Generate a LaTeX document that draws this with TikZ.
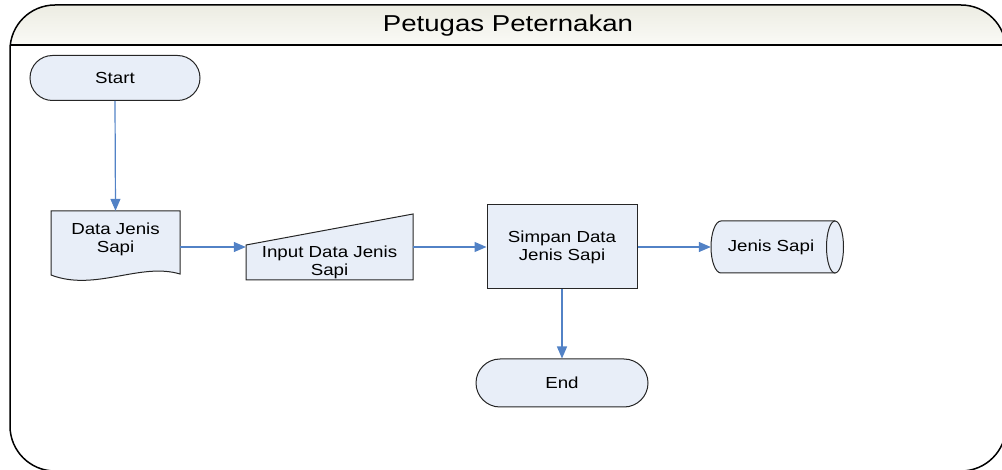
\documentclass[tikz,border=0pt]{standalone}
\usepackage{fontspec}
\setmainfont{Liberation Sans}[FakeStretch=1.17]
\newfontfamily\titlefont{Liberation Sans}[FakeStretch=1.2]
\usetikzlibrary{arrows.meta,shapes.misc}
\definecolor{shapefill}{RGB}{232,238,248}
\definecolor{flowblue}{RGB}{82,130,198}
\definecolor{headtop}{RGB}{236,236,226}
\definecolor{headbot}{RGB}{250,250,246}
\begin{document}
\begin{tikzpicture}[x=1pt,y=-1pt,
  every node/.style={font=\fontsize{16}{18}\selectfont, align=center, inner sep=0pt},
  outline/.style={draw=black!85, line width=1pt, fill=shapefill},
  terminal/.style={outline, rounded rectangle, minimum width=170, minimum height=45},
  procbox/.style={outline, rectangle, minimum width=150, minimum height=84},
  hollow/.style={rectangle, minimum width=#1},
  flow/.style={draw=flowblue, line width=1.2pt, -{Triangle[length=12pt,width=10pt]}},
]
\useasboundingbox (0,0) rectangle (1002,470);
\clip (0,0) rectangle (1002,470);

% swimlane frame and its header band
\begin{scope}
  \clip[rounded corners=45] (10,5) rectangle (1006,471);
  \shade[top color=headtop, bottom color=headbot] (10,5) rectangle (1006,45);
\end{scope}
\draw[line width=1.5pt, rounded corners=45] (10,5) rectangle (1006,471);
\draw[line width=1.5pt] (10,45) -- (1006,45);
\node[font=\titlefont\fontsize{23}{26}\selectfont] (lane) at (508,26) {Petugas Peternakan};

% start / end terminals
\node[terminal] (start) at (115,78) {Start};
\node[terminal, minimum width=172, minimum height=48] (end) at (562,383) {End};

% document: Data Jenis Sapi
\draw[outline] (51,211) -- (180,211) -- (180,274)
  .. controls (140,262) and (95,292) .. (51,275) -- cycle;
\node[hollow=129, minimum height=72] (doc) at (115.5,247) {};
\node at (115.5,239) {Data Jenis\\Sapi};

% manual input: Input Data Jenis Sapi
\draw[outline] (246,245) -- (413,214) -- (413,280) -- (246,280) -- cycle;
\node[hollow=167, minimum height=66] (inp) at (329.5,247) {};
\node at (329.5,262) {Input Data Jenis\\Sapi};

% process: Simpan Data Jenis Sapi
\node[procbox] (proc) at (562,247) {Simpan Data\\Jenis Sapi};

% stored data: Jenis Sapi
\draw[outline] (835,221) -- (721,221)
  arc[start angle=270, end angle=90, x radius=10, y radius=26] -- (835,273);
\draw[outline] (835,247) ellipse[x radius=8.5, y radius=26];
\node[hollow=132, minimum height=52] (store) at (777,247) {};
\node at (771,247) {Jenis Sapi};

% connectors
\draw[flow] (start.south) -- (doc.north);
\draw[flow] (doc.east) -- (inp.west);
\draw[flow] (inp.east) -- (proc.west);
\draw[flow] (proc.east) -- (store.west);
\draw[flow] (proc.south) -- (end.north);
\end{tikzpicture}
\end{document}
